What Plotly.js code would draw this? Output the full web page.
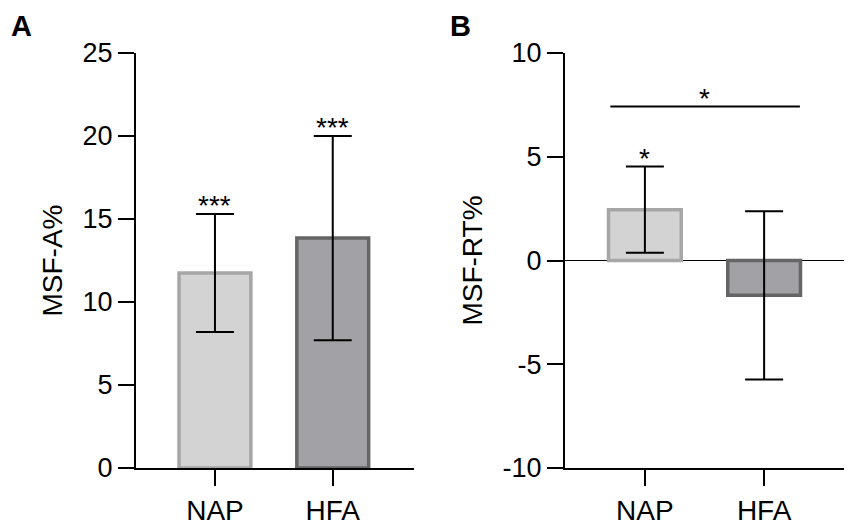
<!DOCTYPE html>
<html>
<head>
<meta charset="utf-8">
<script src="https://cdn.plot.ly/plotly-3.0.1.min.js"></script>
<style>
  html, body { margin: 0; padding: 0; background: #fff; }
  #chart { width: 854px; height: 525px; }
</style>
</head>
<body>
<div id="chart"></div>
<script>
// groups
const groups = ['NAP', 'HFA'];

// panel A: MSF-A% (mean, SD)
const msfA_mean = [11.75, 13.85];
const msfA_sd = [3.55, 6.15];
const msfA_stars = ['***', '***'];
const msfA_ticks = [0, 5, 10, 15, 20, 25];

// panel B: MSF-RT% (mean, SD)
const msfRT_mean = [2.45, -1.68];
const msfRT_sd = [2.08, 4.05];
const msfRT_stars = ['*', ''];
const msfRT_ticks = [-10, -5, 0, 5, 10];
const msfRT_tickText = ['-10', '-5', '0', '5', '10'];

// between-group comparison in panel B
const compareY = 7.42;
const compareLabel = '*';

const fillColors = ['#d3d3d3', '#a2a1a6'];
const edgeColors = ['#a6a6a6', '#656565'];

const font = 'Arial, "Liberation Sans", sans-serif';

const barA = {
    type: 'bar',
    x: groups,
    y: msfA_mean,
    width: 0.61,
    marker: { color: fillColors, line: { color: edgeColors, width: 3.5 } },
    error_y: { type: 'data', array: msfA_sd, visible: true, color: '#000', thickness: 2, width: 19 },
    xaxis: 'x', yaxis: 'y',
    hoverinfo: 'none'
};

const barB = {
    type: 'bar',
    x: groups,
    y: msfRT_mean,
    width: 0.61,
    marker: { color: fillColors, line: { color: edgeColors, width: 3.5 } },
    error_y: { type: 'data', array: msfRT_sd, visible: true, color: '#000', thickness: 2, width: 19 },
    xaxis: 'x2', yaxis: 'y2',
    hoverinfo: 'none'
};

const axisCommon = {
    showline: true,
    linecolor: '#000',
    linewidth: 2,
    ticks: 'outside',
    ticklen: 16,
    tickwidth: 2,
    tickcolor: '#000',
    showgrid: false,
    tickfont: { family: font, size: 27, color: '#000' }
};

const starFont = { family: font, size: 28, color: '#000' };
const annotations = [];
groups.forEach((g, i) => {
    if (msfA_stars[i]) {
        annotations.push({
            xref: 'x', yref: 'y', x: g, y: msfA_mean[i] + msfA_sd[i],
            text: msfA_stars[i], showarrow: false, yanchor: 'bottom', yshift: -9,
            font: starFont
        });
    }
    if (msfRT_stars[i]) {
        annotations.push({
            xref: 'x2', yref: 'y2', x: g, y: msfRT_mean[i] + msfRT_sd[i],
            text: msfRT_stars[i], showarrow: false, yanchor: 'bottom', yshift: -9,
            font: starFont
        });
    }
});
annotations.push({
    xref: 'x2', yref: 'y2', x: 0.5, y: compareY,
    text: compareLabel, showarrow: false, yanchor: 'bottom', yshift: -9,
    font: starFont
});
annotations.push({
    xref: 'paper', yref: 'paper', x: 0.011, y: 0.985, xanchor: 'left', yanchor: 'top',
    text: '<b>A</b>', showarrow: false, font: { family: font, size: 29, color: '#000' }
});
annotations.push({
    xref: 'paper', yref: 'paper', x: 0.525, y: 0.985, xanchor: 'left', yanchor: 'top',
    text: '<b>B</b>', showarrow: false, font: { family: font, size: 29, color: '#000' }
});

const layout = {
    width: 854,
    height: 525,
    margin: { l: 0, r: 0, t: 0, b: 0 },
    paper_bgcolor: '#fff',
    plot_bgcolor: '#fff',
    showlegend: false,
    font: { family: font, color: '#000' },
    xaxis: Object.assign({}, axisCommon, {
        domain: [0.1593, 0.4848],
        range: [-0.67, 1.69],
        type: 'category',
        tickfont: { family: font, size: 28, color: '#000' }
    }),
    yaxis: Object.assign({}, axisCommon, {
        domain: [0.1086, 0.899],
        range: [0, 25],
        tickvals: msfA_ticks,
        zeroline: false,
        title: { text: 'MSF-A%', font: { family: font, size: 28, color: '#000' }, standoff: 12 }
    }),
    xaxis2: Object.assign({}, axisCommon, {
        domain: [0.6616, 0.9883],
        range: [-0.67, 1.67],
        type: 'category',
        anchor: 'y2',
        tickfont: { family: font, size: 28, color: '#000' }
    }),
    yaxis2: Object.assign({}, axisCommon, {
        domain: [0.1086, 0.899],
        range: [-10, 10],
        tickvals: msfRT_ticks,
        ticktext: msfRT_tickText,
        zeroline: true,
        zerolinecolor: '#000',
        zerolinewidth: 1.3,
        anchor: 'x2',
        title: { text: 'MSF-RT%', font: { family: font, size: 28, color: '#000' }, standoff: 12 }
    }),
    shapes: [{
        type: 'line', xref: 'x2', yref: 'y2',
        x0: -0.29, x1: 1.3, y0: compareY, y1: compareY,
        line: { color: '#000', width: 2 }
    }],
    annotations: annotations
};

Plotly.newPlot('chart', [barA, barB], layout, { displayModeBar: false, staticPlot: true });
</script>
</body>
</html>
